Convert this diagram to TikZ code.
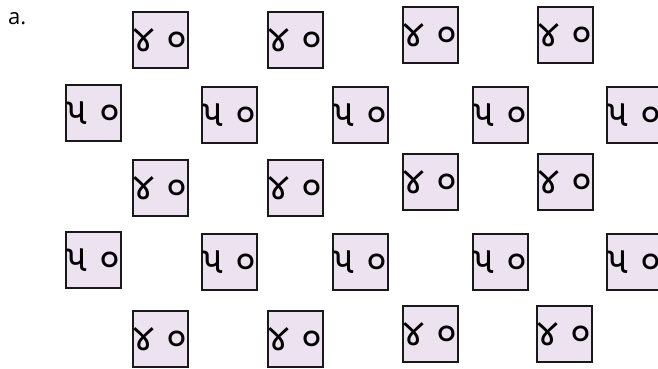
\documentclass[tikz,border=0pt]{standalone}
\usepackage{fontspec}
\setmainfont{Open Sans}
\newfontfamily\gujfont[Script=Gujarati]{Noto Sans Gujarati UI}
\usepackage{xcolor}
\definecolor{tilefill}{RGB}{237,226,240}
\usetikzlibrary{positioning}

\begin{document}
\begin{tikzpicture}[x=1pt, y=1pt, tile/.style={draw=black!90, line width=1.8pt, fill=tilefill, minimum width=55pt, minimum height=56pt, inner sep=0pt, font=\gujfont\fontsize{38}{38}\selectfont}]
\useasboundingbox (0,0) rectangle (658,368);
\clip (0,0) rectangle (658,368);
\node[anchor=north west, inner sep=0pt, font=\fontsize{22}{22}\selectfont] (lbl) at (8,356) {a.};
% row 1: forty
\node[tile] (fa1) at (160.5,328) {૪ ૦};
\node[tile] (fa2) at (295.5,328) {૪ ૦};
\node[tile] (fa3) at (430.5,333) {૪ ૦};
\node[tile] (fa4) at (565.5,333) {૪ ૦};
% row 2: fifty
\node[tile] (fb1) at (93.5,255) {૫ ૦};
\node[tile] (fb2) at (229.5,253) {૫ ૦};
\node[tile] (fb3) at (360.5,253) {૫ ૦};
\node[tile] (fb4) at (500.5,253) {૫ ૦};
\node[tile] (fb5) at (634.5,253) {૫ ૦};
% row 3: forty
\node[tile] (fc1) at (160.5,180) {૪ ૦};
\node[tile] (fc2) at (295.5,180) {૪ ૦};
\node[tile] (fc3) at (430.5,186) {૪ ૦};
\node[tile] (fc4) at (565.5,186) {૪ ૦};
% row 4: fifty
\node[tile] (fd1) at (93.5,108) {૫ ૦};
\node[tile] (fd2) at (229.5,106) {૫ ૦};
\node[tile] (fd3) at (360.5,106) {૫ ૦};
\node[tile] (fd4) at (500.5,106) {૫ ૦};
\node[tile] (fd5) at (634.5,106) {૫ ૦};
% row 5: forty
\node[tile] (fe1) at (160.5,29) {૪ ૦};
\node[tile] (fe2) at (295.5,29) {૪ ૦};
\node[tile] (fe3) at (430.5,34) {૪ ૦};
\node[tile] (fe4) at (564.5,34) {૪ ૦};
\end{tikzpicture}
\end{document}
